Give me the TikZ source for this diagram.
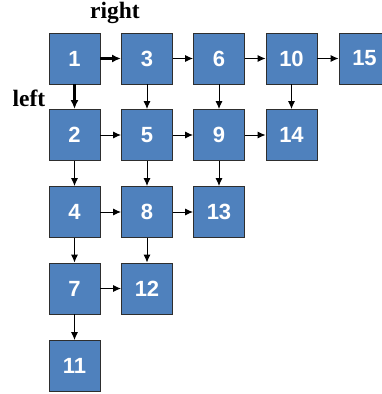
\documentclass[tikz,border=0pt]{standalone}
\usepackage{fontspec}
\setmainfont{Liberation Serif}
\newfontfamily\numfont{Liberation Sans}
\usetikzlibrary{arrows.meta}
\definecolor{boxblue}{HTML}{4F81BD}
\definecolor{boxedge}{HTML}{2E2E2E}
\tikzset{
  cell/.style={draw=boxedge, line width=0.9pt, fill=boxblue, minimum width=51pt, minimum height=51pt, inner sep=0pt, text=white, font=\numfont\bfseries\fontsize{22}{22}\selectfont},
  link/.style={line width=1pt, -{Latex[length=8pt,width=7pt]}},
  boldlink/.style={line width=2.4pt, -{Latex[length=9pt,width=8pt]}},
  lab/.style={font=\bfseries\fontsize{23.5}{23.5}\selectfont, inner sep=0pt}
}
\begin{document}
\begin{tikzpicture}[x=1pt,y=-1pt]
\useasboundingbox (0,0) rectangle (382,394);
\fill[white] (0,0) rectangle (382,394);
% row 1
\node[cell] (n1) at (74.5,58.5) {1};
\node[cell] (n3) at (147,58.5) {3};
\node[cell] (n6) at (219,58.5) {6};
\node[cell] (n10) at (291.5,58.5) {10};
\node[cell] (n15) at (364.5,58.5) {15};
% row 2
\node[cell] (n2) at (74.5,135) {2};
\node[cell] (n5) at (147,135) {5};
\node[cell] (n9) at (219,135) {9};
\node[cell] (n14) at (291.5,135) {14};
% row 3
\node[cell] (n4) at (74.5,212) {4};
\node[cell] (n8) at (147,212) {8};
\node[cell] (n13) at (219,212) {13};
% row 4
\node[cell] (n7) at (74.5,288.5) {7};
\node[cell] (n12) at (147,288.5) {12};
% row 5
\node[cell] (n11) at (74.5,366) {11};
% labels
\node[lab] (lr) at (115,13) {right};
\node[lab] (ll) at (29,98) {left};
% horizontal connectors
\draw[boldlink] (n1) -- (n3);
\draw[link] (n3) -- (n6);
\draw[link] (n6) -- (n10);
\draw[link] (n10) -- (n15);
\draw[link] (n2) -- (n5);
\draw[link] (n5) -- (n9);
\draw[link] (n9) -- (n14);
\draw[link] (n4) -- (n8);
\draw[link] (n8) -- (n13);
\draw[link] (n7) -- (n12);
% vertical connectors
\draw[boldlink] (n1) -- (n2);
\draw[link] (n3) -- (n5);
\draw[link] (n6) -- (n9);
\draw[link] (n10) -- (n14);
\draw[link] (n2) -- (n4);
\draw[link] (n5) -- (n8);
\draw[link] (n9) -- (n13);
\draw[link] (n4) -- (n7);
\draw[link] (n8) -- (n12);
\draw[link] (n7) -- (n11);
\end{tikzpicture}
\end{document}
